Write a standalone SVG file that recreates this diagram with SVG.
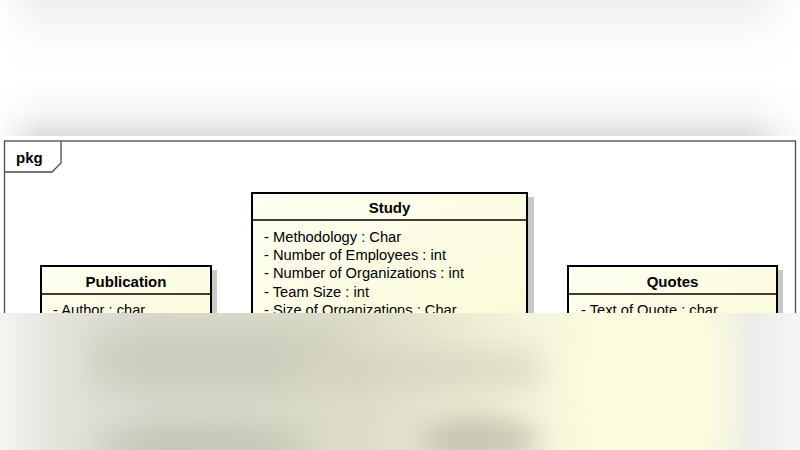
<svg xmlns="http://www.w3.org/2000/svg" width="800" height="450" viewBox="0 0 800 450">
<defs>
<style>
.frame{fill:none;stroke:#4a4a4a;stroke-width:1.3}
.box{stroke:#000;stroke-width:2}
.shadow{fill:#c8c8c8}
.sep{stroke:#000;stroke-width:1.3}
.title{font-family:"Liberation Sans",Arial,sans-serif;font-size:15px;font-weight:bold;fill:#000;text-anchor:middle}
.attr{font-family:"Liberation Sans",Arial,sans-serif;font-size:14.7px;fill:#000}
.pkg{font-family:"Liberation Sans",Arial,sans-serif;font-size:15px;font-weight:bold;fill:#000}
</style>
<linearGradient id="fillY" x1="0" y1="0" x2="1" y2="1">
<stop offset="0" stop-color="#fefef2"/>
<stop offset="1" stop-color="#fbfbd8"/>
</linearGradient>
<linearGradient id="topG" x1="0" y1="0" x2="0" y2="1">
<stop offset="0" stop-color="#efefef"/>
<stop offset="0.3" stop-color="#fcfcfc"/>
<stop offset="0.6" stop-color="#ffffff"/>
<stop offset="0.82" stop-color="#f6f6f6"/>
<stop offset="1" stop-color="#dededa"/>
</linearGradient>
<linearGradient id="topEdge" x1="0" y1="0" x2="1" y2="0">
<stop offset="0" stop-color="#ffffff" stop-opacity="0.9"/>
<stop offset="0.05" stop-color="#ffffff" stop-opacity="0"/>
<stop offset="0.93" stop-color="#ffffff" stop-opacity="0"/>
<stop offset="1" stop-color="#ffffff" stop-opacity="0.9"/>
</linearGradient>
<linearGradient id="botG" x1="0" y1="0" x2="1" y2="0">
<stop offset="0" stop-color="#f4f4f2"/>
<stop offset="0.07" stop-color="#e4e4dc"/>
<stop offset="0.2" stop-color="#d6d6ca"/>
<stop offset="0.45" stop-color="#dcdcc8"/>
<stop offset="0.65" stop-color="#f4f4da"/>
<stop offset="0.75" stop-color="#fbfbe0"/>
<stop offset="0.88" stop-color="#fafadf"/>
<stop offset="0.94" stop-color="#ececea"/>
<stop offset="1" stop-color="#f6f6f6"/>
</linearGradient>
<filter id="blur" x="-20%" y="-20%" width="140%" height="140%">
<feGaussianBlur stdDeviation="14"/>
</filter>
<clipPath id="botClip"><rect x="0" y="313" width="800" height="137"/></clipPath>
</defs>

<rect x="0" y="0" width="800" height="450" fill="#ffffff"/>

<g id="package">
<rect class="frame" x="4.5" y="141" width="791" height="320"/>
<path class="frame" d="M4.5,172 H52 L61,163 V141"/>
<text class="pkg" x="16" y="163">pkg</text>
</g>

<g id="publication">
<rect class="shadow" x="211" y="270" width="6" height="60"/>
<rect class="box" x="41" y="266" width="170" height="70" fill="url(#fillY)"/>
<line class="sep" x1="41" y1="294" x2="211" y2="294"/>
<text class="title" x="126" y="287">Publication</text>
<text class="attr" x="53" y="315">- Author : char</text>
</g>

<g id="study">
<rect class="shadow" x="527" y="197" width="7" height="140"/>
<rect class="box" x="252" y="193" width="275" height="150" fill="url(#fillY)"/>
<line class="sep" x1="252" y1="220" x2="527" y2="220"/>
<text class="title" x="389.5" y="213">Study</text>
<text class="attr" x="264" y="242">- Methodology : Char</text>
<text class="attr" x="264" y="260">- Number of Employees : int</text>
<text class="attr" x="264" y="278">- Number of Organizations : int</text>
<text class="attr" x="264" y="297">- Team Size : int</text>
<text class="attr" x="264" y="315">- Size of Organizations : Char</text>
</g>

<g id="quotes">
<rect class="shadow" x="777" y="270" width="6" height="60"/>
<rect class="box" x="568" y="266" width="209" height="70" fill="url(#fillY)"/>
<line class="sep" x1="568" y1="294" x2="777" y2="294"/>
<text class="title" x="672.5" y="287">Quotes</text>
<text class="attr" x="581" y="315">- Text of Quote : char</text>
</g>

<g id="connectors"></g>

<g id="topFade">
<rect x="0" y="0" width="800" height="136" fill="url(#topG)"/>
<rect x="0" y="0" width="800" height="136" fill="url(#topEdge)"/>
</g>

<g id="bottomBlur" clip-path="url(#botClip)">
<rect x="0" y="313" width="800" height="137" fill="url(#botG)"/>
<g filter="url(#blur)" opacity="0.6">
<rect x="90" y="330" width="250" height="60" fill="#c8c8b8"/>
<rect x="300" y="350" width="240" height="40" fill="#d0d0bc"/>
<ellipse cx="480" cy="440" rx="60" ry="22" fill="#a8a898"/>
<ellipse cx="200" cy="445" rx="110" ry="18" fill="#b8b8a8"/>
<rect x="600" y="330" width="130" height="110" fill="#fdfde2"/>
</g>
</g>
</svg>
